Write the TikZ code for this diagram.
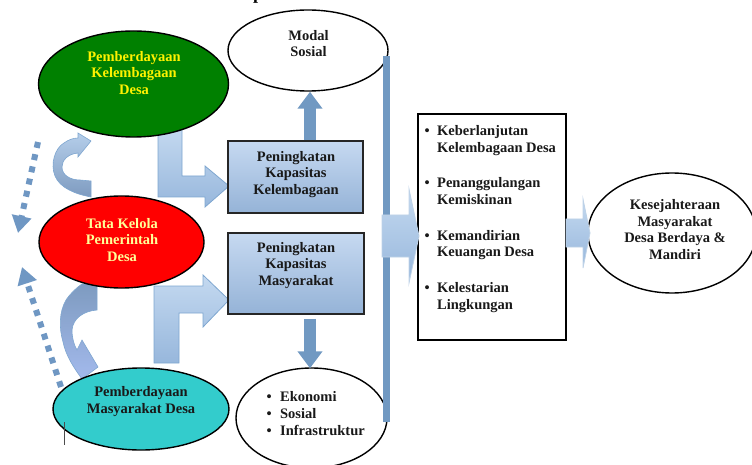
\documentclass[tikz,border=0pt]{standalone}
\usepackage{fontspec}
\setmainfont{Liberation Serif}
\usetikzlibrary{shapes.geometric,arrows.meta,calc}
\definecolor{barblue}{HTML}{7199C2}
\definecolor{dotblue}{HTML}{6F97C3}
\definecolor{boxtop}{HTML}{C6D9F1}
\definecolor{boxbot}{HTML}{95B3D7}
\definecolor{arrline}{HTML}{7EA6D0}
\definecolor{arrtop}{HTML}{C4D9F0}
\definecolor{arrbot}{HTML}{97B7DC}
\definecolor{grn}{HTML}{008000}
\definecolor{cyanf}{HTML}{33CCCC}
\definecolor{paleyel}{HTML}{FFFF99}
\definecolor{curvlight}{HTML}{B5CEEA}
\definecolor{curvdark}{HTML}{7E9BC0}
\begin{document}
\begin{tikzpicture}[x=1pt,y=-1pt,
 ell/.style={ellipse, draw=black, line width=1.4pt, inner sep=0pt},
 kbox/.style={rectangle, draw=black!85, line width=1.8pt, top color=boxtop, bottom color=boxbot, inner sep=0pt},
 txt/.style={font=\fontsize{14.5}{16.8}\selectfont\bfseries, align=center, inner sep=0pt, text=black!90},
 blockarr/.style={draw=arrline, line width=0.8pt, top color=arrtop, bottom color=arrbot},
 curvarr/.style={draw=arrline, line width=0.6pt},
 solidarr/.style={barblue, line width=12.5pt, -{Triangle[length=17pt,width=24pt]}},
 dotarr/.style={dotblue, line width=6pt, dash pattern=on 6pt off 6.5pt, -{Triangle[length=17pt,width=19pt]}}
]
\useasboundingbox (0,0) rectangle (752,465);

% cut-off title
\node[font=\fontsize{18}{20}\selectfont\bfseries, anchor=base west, inner sep=0pt] (ptitle) at (253,0) {p};

% curved arrows
\path[curvarr, top color=curvlight, bottom color=curvdark]
 (91,141) -- (78,157) -- (78,153) .. controls (68,154) and (62,160) .. (62,167)
 .. controls (62,175) and (70,180) .. (80,180) -- (91,181) -- (91,197)
 .. controls (75,194) and (60,188) .. (55,176) .. controls (50,164) and (55,148) .. (64,143)
 .. controls (68,140) and (73,138) .. (78,138) -- (78,133) -- cycle;
\path[curvarr, top color=curvdark, bottom color=curvlight!90!blue]
 (82,284) -- (97,284) -- (97,310) .. controls (84,311) and (73,318) .. (72,330)
 .. controls (72,338) and (74,345) .. (77,350) -- (82,340) -- (98,367) -- (82,379)
 .. controls (74,368) and (66,356) .. (63,342) .. controls (59,328) and (59,312) .. (66,300)
 .. controls (70,294) and (76,288) .. (82,284) -- cycle;

% L-shaped block arrows
\path[blockarr] (158,128) -- (182,128) -- (182,176) -- (205,176) -- (205,166) -- (229,186)
 -- (205,207) -- (205,197) -- (158,197) -- cycle;
\path[blockarr] (154,363) -- (154,286) -- (203,286) -- (203,275) -- (229,300) -- (203,327)
 -- (203,313) -- (179,313) -- (179,363) -- cycle;

% dotted arrows
\coordinate (d1s) at (38,142); \coordinate (d1e) at (18,233);
\draw[dotarr] (d1s) -- (d1e);
\coordinate (d2s) at (61,387); \coordinate (d2e) at (22,267);
\draw[dotarr] (d2s) -- (d2e);

% ellipses
\node[ell, fill=grn, minimum width=190pt, minimum height=106pt] (green) at (133.5,84) {};
\node[ell, fill=red, minimum width=165pt, minimum height=92pt] (red) at (121.5,242) {};
\node[ell, fill=cyanf, minimum width=176pt, minimum height=82pt] (cyan) at (141,409) {};
\node[ell, fill=white, minimum width=160pt, minimum height=81pt] (modal) at (308,50.5) {};
\node[ell, fill=white, minimum width=151pt, minimum height=100pt] (eco) at (311.5,418) {};
\node[ell, fill=white, minimum width=168pt, minimum height=120pt] (kes) at (672,233) {};

% boxes
\node[kbox, minimum width=135pt, minimum height=72pt] (box1) at (295.5,177) {};
\node[kbox, minimum width=136pt, minimum height=81pt] (box2) at (296,273.5) {};
\node[draw=black, line width=1.6pt, fill=white, minimum width=148pt, minimum height=226pt, inner sep=0pt] (goal) at (492,227) {};

% vertical bar
\node[fill=barblue, minimum width=7pt, minimum height=366pt, inner sep=0pt, anchor=north west] (bar) at (383,56) {};

% solid arrows
\draw[solidarr] ($(box1.north)+(14.5,0)$) -- ($(modal.south)+(2,0)$);
\draw[solidarr] ($(box2.south)+(14,4)$) -- ($(eco.north)+(-1.5,1)$);

% block arrows to the right
\path[blockarr, draw=arrline!50] (382,215) -- (409,215) -- (409,189) -- (419,236) -- (409,283)
 -- (409,257) -- (382,257) -- cycle;
\path[blockarr, draw=arrline!50] (566,219) -- (583,219) -- (583,199) -- (590,233) -- (583,268)
 -- (583,247) -- (566,247) -- cycle;

% texts
\node[txt, text=yellow] (tgreen) at (134,73) {Pemberdayaan\\Kelembagaan\\Desa};
\node[txt, text=paleyel] (tred) at (122,240) {Tata Kelola\\Pemerintah\\Desa};
\node[txt] (tcyan) at (141,401.5) {Pemberdayaan\\Masyarakat Desa};
\node[txt] (tmodal) at (308.5,43.5) {Modal\\Sosial};
\node[txt] (tbox1) at (296,174.5) {Peningkatan\\Kapasitas\\Kelembagaan};
\node[txt] (tbox2) at (296,265.5) {Peningkatan\\Kapasitas\\Masyarakat};
\node[txt] (tkes) at (675,229.5) {Kesejahteraan\\Masyarakat\\Desa Berdaya \&\\Mandiri};

\node[txt, align=left, anchor=base west] (teco) at (266.5,401.5)
 {\begin{tabular}[t]{@{}l@{\hspace{8.4pt}}l@{}}
 \textbullet & Ekonomi\\
 \textbullet & Sosial\\
 \textbullet & Infrastruktur
 \end{tabular}};

\node[txt, align=left, anchor=base west] (tgoal) at (424.5,135.5)
 {\begin{tabular}[t]{@{}l@{\hspace{7.4pt}}l@{}}
 \textbullet & Keberlanjutan\\
  & Kelembagaan Desa\\[18.7pt]
 \textbullet & Penanggulangan\\
  & Kemiskinan\\[18.7pt]
 \textbullet & Kemandirian\\
  & Keuangan Desa\\[18.7pt]
 \textbullet & Kelestarian\\
  & Lingkungan
 \end{tabular}};

% text cursor mark
\coordinate (cur1) at (64,422); \coordinate (cur2) at (64,445);
\draw[black!70, line width=0.7pt] (cur1) -- (cur2);
\end{tikzpicture}
\end{document}
